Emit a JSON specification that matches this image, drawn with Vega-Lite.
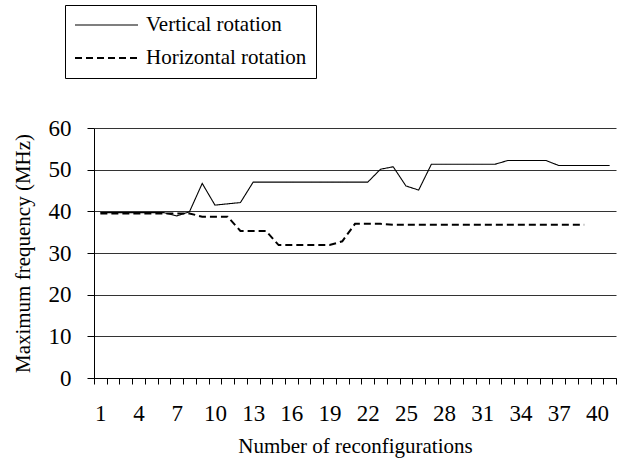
{
  "$schema": "https://vega.github.io/schema/vega-lite/v6.json",
  "autosize": "none",
  "width": 522,
  "height": 250,
  "padding": {"left": 94, "top": 128, "right": 1, "bottom": 83},
  "background": "white",
  "config": {
    "view": {"stroke": null},
    "font": "Liberation Serif"
  },
  "data": {
    "values": [
      {"n": 1, "series": "Vertical rotation", "freq": 39.7},
      {"n": 2, "series": "Vertical rotation", "freq": 39.7},
      {"n": 3, "series": "Vertical rotation", "freq": 39.7},
      {"n": 4, "series": "Vertical rotation", "freq": 39.7},
      {"n": 5, "series": "Vertical rotation", "freq": 39.7},
      {"n": 6, "series": "Vertical rotation", "freq": 39.7},
      {"n": 7, "series": "Vertical rotation", "freq": 38.9},
      {"n": 8, "series": "Vertical rotation", "freq": 39.9},
      {"n": 9, "series": "Vertical rotation", "freq": 46.7},
      {"n": 10, "series": "Vertical rotation", "freq": 41.5},
      {"n": 11, "series": "Vertical rotation", "freq": 41.8},
      {"n": 12, "series": "Vertical rotation", "freq": 42.1},
      {"n": 13, "series": "Vertical rotation", "freq": 47.0},
      {"n": 14, "series": "Vertical rotation", "freq": 47.0},
      {"n": 15, "series": "Vertical rotation", "freq": 47.0},
      {"n": 16, "series": "Vertical rotation", "freq": 47.0},
      {"n": 17, "series": "Vertical rotation", "freq": 47.0},
      {"n": 18, "series": "Vertical rotation", "freq": 47.0},
      {"n": 19, "series": "Vertical rotation", "freq": 47.0},
      {"n": 20, "series": "Vertical rotation", "freq": 47.0},
      {"n": 21, "series": "Vertical rotation", "freq": 47.0},
      {"n": 22, "series": "Vertical rotation", "freq": 47.0},
      {"n": 23, "series": "Vertical rotation", "freq": 50.1},
      {"n": 24, "series": "Vertical rotation", "freq": 50.7},
      {"n": 25, "series": "Vertical rotation", "freq": 46.1},
      {"n": 26, "series": "Vertical rotation", "freq": 45.1},
      {"n": 27, "series": "Vertical rotation", "freq": 51.3},
      {"n": 28, "series": "Vertical rotation", "freq": 51.3},
      {"n": 29, "series": "Vertical rotation", "freq": 51.3},
      {"n": 30, "series": "Vertical rotation", "freq": 51.3},
      {"n": 31, "series": "Vertical rotation", "freq": 51.3},
      {"n": 32, "series": "Vertical rotation", "freq": 51.3},
      {"n": 33, "series": "Vertical rotation", "freq": 52.2},
      {"n": 34, "series": "Vertical rotation", "freq": 52.2},
      {"n": 35, "series": "Vertical rotation", "freq": 52.2},
      {"n": 36, "series": "Vertical rotation", "freq": 52.2},
      {"n": 37, "series": "Vertical rotation", "freq": 51.0},
      {"n": 38, "series": "Vertical rotation", "freq": 51.0},
      {"n": 39, "series": "Vertical rotation", "freq": 51.0},
      {"n": 40, "series": "Vertical rotation", "freq": 51.0},
      {"n": 41, "series": "Vertical rotation", "freq": 51.0},
      {"n": 1, "series": "Horizontal rotation", "freq": 39.5},
      {"n": 2, "series": "Horizontal rotation", "freq": 39.5},
      {"n": 3, "series": "Horizontal rotation", "freq": 39.5},
      {"n": 4, "series": "Horizontal rotation", "freq": 39.5},
      {"n": 5, "series": "Horizontal rotation", "freq": 39.5},
      {"n": 6, "series": "Horizontal rotation", "freq": 39.5},
      {"n": 7, "series": "Horizontal rotation", "freq": 39.5},
      {"n": 8, "series": "Horizontal rotation", "freq": 39.5},
      {"n": 9, "series": "Horizontal rotation", "freq": 38.7},
      {"n": 10, "series": "Horizontal rotation", "freq": 38.7},
      {"n": 11, "series": "Horizontal rotation", "freq": 38.7},
      {"n": 12, "series": "Horizontal rotation", "freq": 35.3},
      {"n": 13, "series": "Horizontal rotation", "freq": 35.3},
      {"n": 14, "series": "Horizontal rotation", "freq": 35.3},
      {"n": 15, "series": "Horizontal rotation", "freq": 31.9},
      {"n": 16, "series": "Horizontal rotation", "freq": 31.9},
      {"n": 17, "series": "Horizontal rotation", "freq": 31.9},
      {"n": 18, "series": "Horizontal rotation", "freq": 31.9},
      {"n": 19, "series": "Horizontal rotation", "freq": 31.9},
      {"n": 20, "series": "Horizontal rotation", "freq": 32.8},
      {"n": 21, "series": "Horizontal rotation", "freq": 37.0},
      {"n": 22, "series": "Horizontal rotation", "freq": 37.0},
      {"n": 23, "series": "Horizontal rotation", "freq": 37.0},
      {"n": 24, "series": "Horizontal rotation", "freq": 36.8},
      {"n": 25, "series": "Horizontal rotation", "freq": 36.8},
      {"n": 26, "series": "Horizontal rotation", "freq": 36.8},
      {"n": 27, "series": "Horizontal rotation", "freq": 36.8},
      {"n": 28, "series": "Horizontal rotation", "freq": 36.8},
      {"n": 29, "series": "Horizontal rotation", "freq": 36.8},
      {"n": 30, "series": "Horizontal rotation", "freq": 36.8},
      {"n": 31, "series": "Horizontal rotation", "freq": 36.8},
      {"n": 32, "series": "Horizontal rotation", "freq": 36.8},
      {"n": 33, "series": "Horizontal rotation", "freq": 36.8},
      {"n": 34, "series": "Horizontal rotation", "freq": 36.8},
      {"n": 35, "series": "Horizontal rotation", "freq": 36.8},
      {"n": 36, "series": "Horizontal rotation", "freq": 36.8},
      {"n": 37, "series": "Horizontal rotation", "freq": 36.8},
      {"n": 38, "series": "Horizontal rotation", "freq": 36.8},
      {"n": 39, "series": "Horizontal rotation", "freq": 36.8}
    ]
  },
  "mark": {"type": "line", "color": "black"},
  "encoding": {
    "x": {
      "field": "n",
      "type": "ordinal",
      "bandPosition": 0.5,
      "scale": {"type": "band", "paddingInner": 0, "paddingOuter": 0},
      "axis": {
        "title": "Number of reconfigurations",
        "titleFont": "Liberation Serif",
        "titleFontSize": 21,
        "titleFontWeight": "normal",
        "titleColor": "black",
        "titlePadding": 10,
        "labelFont": "Liberation Serif",
        "labelFontSize": 23,
        "labelColor": "black",
        "labelAngle": 0,
        "labelPadding": 18,
        "labelExpr": "(datum.value - 1) % 3 == 0 ? datum.label : ''",
        "tickBand": "extent",
        "tickSize": 6,
        "tickColor": "black",
        "domainColor": "black",
        "grid": false
      }
    },
    "y": {
      "field": "freq",
      "type": "quantitative",
      "scale": {"domain": [0, 60], "nice": false, "zero": true},
      "axis": {
        "title": "Maximum frequency (MHz)",
        "titleFont": "Liberation Serif",
        "titleFontSize": 21,
        "titleFontWeight": "normal",
        "titleColor": "black",
        "titlePadding": 15,
        "values": [0, 10, 20, 30, 40, 50, 60],
        "labelFont": "Liberation Serif",
        "labelFontSize": 23,
        "labelColor": "black",
        "labelPadding": 16,
        "tickSize": 7,
        "tickColor": "black",
        "domainColor": "black",
        "grid": true,
        "gridColor": "#333333",
        "gridWidth": 1
      }
    },
    "strokeWidth": {
      "field": "series",
      "type": "ordinal",
      "scale": {
        "domain": ["Vertical rotation", "Horizontal rotation"],
        "range": [1.1, 2]
      },
      "legend": null
    },
    "strokeDash": {
      "field": "series",
      "type": "nominal",
      "scale": {
        "domain": ["Vertical rotation", "Horizontal rotation"],
        "range": [[1, 0], [7, 4]]
      },
      "legend": {
        "title": null,
        "orient": "none",
        "legendX": -29,
        "legendY": -123,
        "strokeColor": "black",
        "fillColor": "white",
        "padding": 9,
        "clipHeight": 22,
        "rowPadding": 11,
        "symbolType": "stroke",
        "symbolSize": 3969,
        "symbolStrokeColor": "black",
        "symbolStrokeWidth": 1.3,
        "labelFont": "Liberation Serif",
        "labelFontSize": 21,
        "labelColor": "black",
        "labelOffset": 7,
        "labelLimit": 400
      }
    }
  }
}
